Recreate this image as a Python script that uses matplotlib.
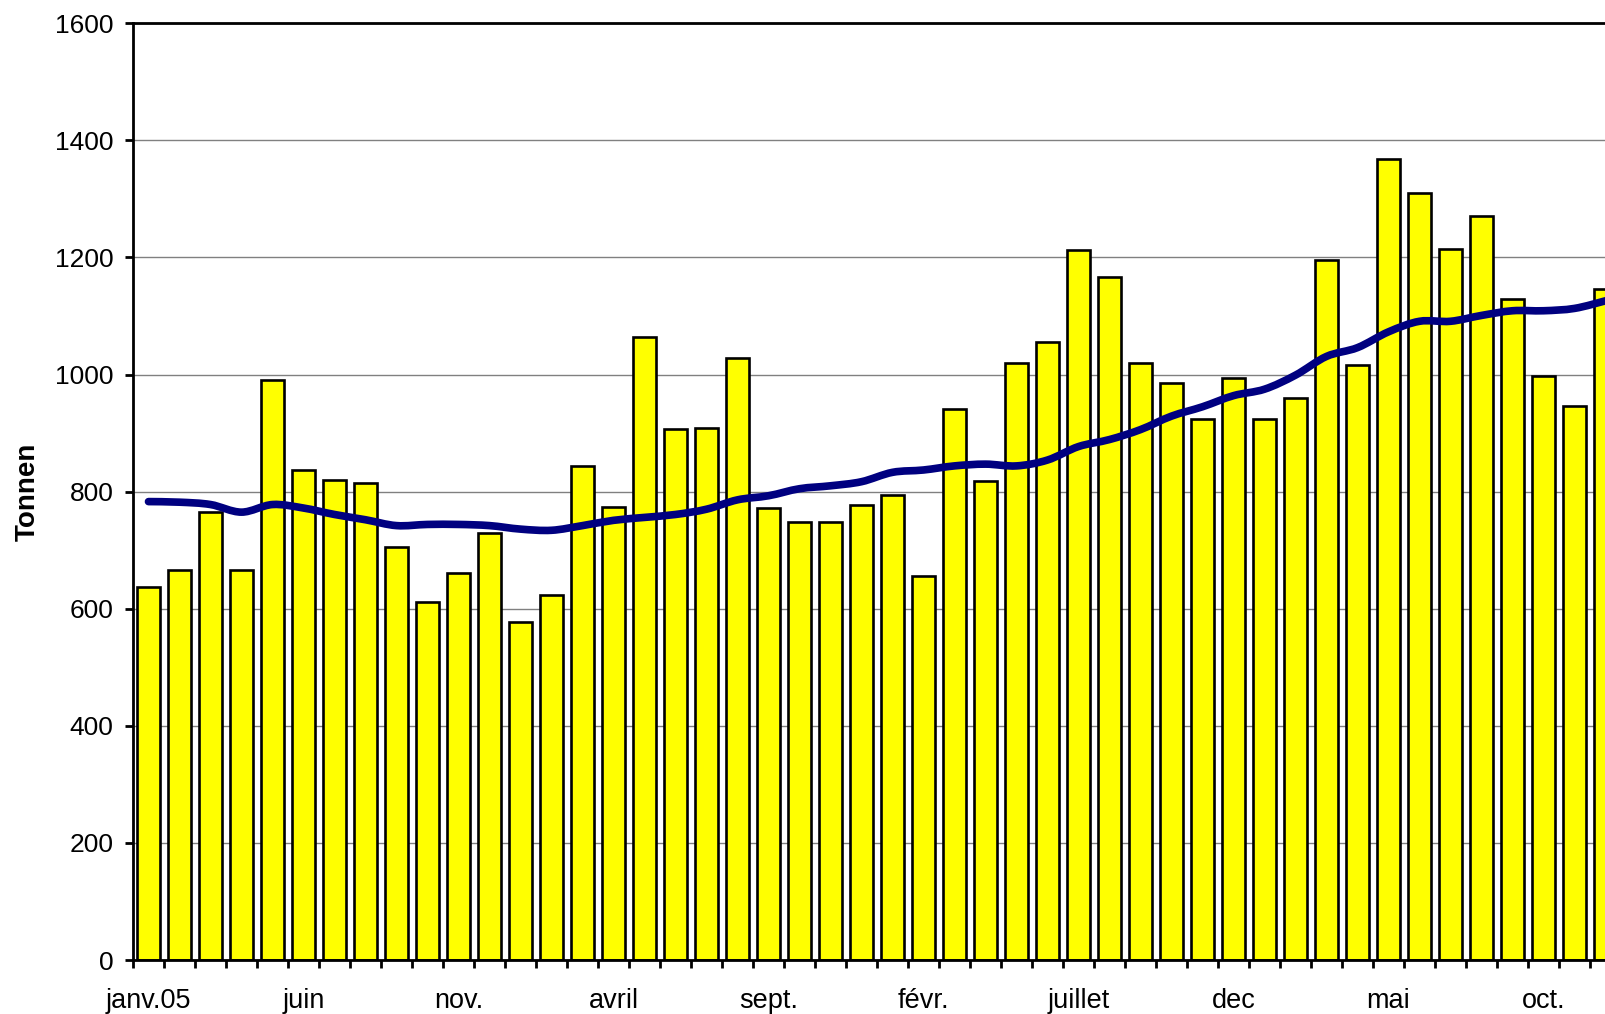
import matplotlib
matplotlib.use('Agg')
import matplotlib.pyplot as plt
from matplotlib.path import Path
from matplotlib.patches import PathPatch
import numpy as np

plt.rcParams['font.family'] = ['Liberation Sans', 'DejaVu Sans']

# monthly tonnage from janv.05 onwards
tonnen = [637, 667, 766, 667, 990, 837, 820, 814, 705, 612, 661, 730,
          578, 623, 844, 773, 1065, 907, 908, 1029, 772, 748, 748, 777,
          795, 656, 942, 818, 1020, 1055, 1212, 1167, 1020, 985, 924, 994,
          924, 960, 1195, 1017, 1368, 1310, 1214, 1270, 1129, 997, 947, 1146]

# smoothed trend (moving average)
trend = [783, 782, 778, 765, 778, 772, 761, 752, 742, 744, 744, 742,
         736, 734, 742, 751, 756, 761, 770, 786, 793, 805, 810, 817,
         833, 837, 844, 847, 844, 854, 877, 889, 906, 929, 945, 964,
         975, 999, 1031, 1046, 1073, 1091, 1091, 1101, 1109, 1109, 1113, 1126]

label_idx = [0, 5, 10, 15, 20, 25, 30, 35, 40, 45]
labels = ['janv.05', 'juin', 'nov.', 'avril', 'sept.', 'févr.',
          'juillet', 'dec', 'mai', 'oct.']

n = len(tonnen)
x = np.arange(n)

fig = plt.figure(figsize=(16.06, 10.14), dpi=100)
# right edge of the plot runs past the picture, like in the original
ax = fig.add_axes([133/1606, 1-960/1014, (31.0*n)/1606, (960-23.3)/1014])

ax.bar(x, tonnen, width=0.77, color='#FFFF00', edgecolor='black', linewidth=1.9, zorder=2)

# excel-style smoothed line: bezier segments through the trend points
pts = np.column_stack([x, trend]).astype(float)
verts = [pts[0]]
codes = [Path.MOVETO]
for i in range(n-1):
    p0 = pts[i-1] if i > 0 else pts[i]
    p1, p2 = pts[i], pts[i+1]
    p3 = pts[i+2] if i+2 < n else pts[i+1]
    c1 = p1 + (p2 - p0)/6.0
    c2 = p2 - (p3 - p1)/6.0
    verts += [c1, c2, p2]
    codes += [Path.CURVE4]*3
ax.add_patch(PathPatch(Path(verts, codes), fill=False, edgecolor='#000080',
                       linewidth=5.5, capstyle='round', zorder=3))

ax.set_xlim(-0.5, n-0.5)
ax.set_ylim(0, 1600)
ax.set_yticks(np.arange(0, 1601, 200))
ax.yaxis.grid(True, color='#808080', linewidth=1.0, zorder=0)
ax.set_axisbelow(True)

ax.set_xticks(np.arange(n+1)-0.5)
ax.set_xticklabels([])
ax.set_xticks(label_idx, minor=True)
ax.set_xticklabels(labels, minor=True, fontsize=19.5)
ax.tick_params(axis='x', which='major', direction='out', length=6, width=2)
ax.tick_params(axis='x', which='minor', length=0, pad=20)
ax.tick_params(axis='y', direction='out', length=6, width=2, labelsize=19, pad=8)

for s in ['left', 'top', 'bottom']:
    ax.spines[s].set_linewidth(2)
ax.spines['right'].set_visible(False)

ax.set_ylabel('Tonnen', fontsize=20, fontweight='bold', labelpad=10)

fig.savefig('out.png', dpi=100)
